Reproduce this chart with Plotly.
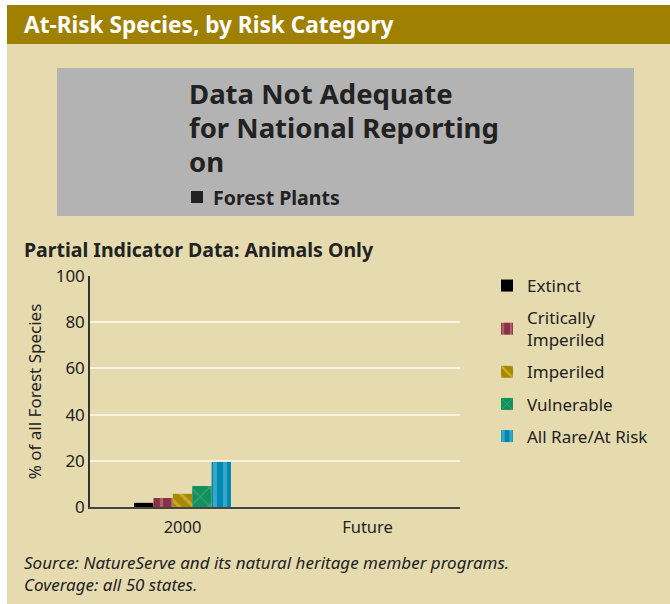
import plotly.graph_objects as go

categories = ["2000", "Future"]
series_names = ["Extinct", "Critically<br>Imperiled", "Imperiled", "Vulnerable", "All Rare/At Risk"]
extinct = [1.8, None]
critically_imperiled = [3.9, None]
imperiled = [5.7, None]
vulnerable = [9.1, None]
all_rare = [19.5, None]
y_ticks = [0, 20, 40, 60, 80, 100]

series_values = [extinct, critically_imperiled, imperiled, vulnerable, all_rare]
colors = ["#000000", "#8A3042", "#A88A00", "#14905E", "#0088B2"]
pat_shapes = ["", "|", "\\", "x", "|"]
pat_fg = ["#000000", "#C98A92", "#E2C868", "#6DBB94", "#72C2DA"]
pat_size = [8, 11, 10, 13, 10]
pat_sol = [0.3, 0.3, 0.3, 0.15, 0.4]

W, H = 670, 604
L, R, T, B = 90, 210, 276, 97
PW, PH = W - L - R, H - T - B

def px(x):
    return (x - L) / PW

def py(y):
    return (H - B - y) / PH

FONT = "Noto Sans"
fig = go.Figure()
for i, name in enumerate(series_names):
    fig.add_trace(go.Bar(
        x=categories, y=series_values[i], name=name,
        legendgroup=f"g{i}",
        marker=dict(color=colors[i], line=dict(width=0),
                    pattern=dict(shape=pat_shapes[i], fgcolor=pat_fg[i],
                                 bgcolor=colors[i], size=pat_size[i],
                                 solidity=pat_sol[i])),
    ))

shapes = [
    dict(type="rect", xref="paper", yref="paper", x0=px(7), x1=px(672), y0=py(44), y1=py(606),
         fillcolor="#E6DBAF", line=dict(width=0), layer="below"),
    dict(type="rect", xref="paper", yref="paper", x0=px(7), x1=px(672), y0=py(5), y1=py(44),
         fillcolor="#A08000", line=dict(width=0), layer="below"),
    dict(type="rect", xref="paper", yref="paper", x0=px(57), x1=px(634), y0=py(68), y1=py(216),
         fillcolor="#B3B3B3", line=dict(width=0), layer="below"),
    dict(type="rect", xref="paper", yref="paper", x0=px(191), x1=px(203), y0=py(191), y1=py(203),
         fillcolor="#222222", line=dict(width=0), layer="above"),
]

ann = []
def text(x, y, s, size, color="#222222", bold=False, italic=False):
    if bold:
        s = f"<b>{s}</b>"
    if italic:
        s = f"<i>{s}</i>"
    ann.append(dict(x=px(x), y=py(y), xref="paper", yref="paper", text=s, showarrow=False,
                    xanchor="left", yanchor="middle", align="left",
                    font=dict(family=FONT, size=size, color=color)))

text(22, 25, "At-Risk Species, by Risk Category", 22.6, color="#FFFFFF", bold=True)
text(187, 93, "Data Not Adequate", 27.5, bold=True)
text(187, 127, "for National Reporting", 27.5, bold=True)
text(187, 161, "on", 27.5, bold=True)
text(211, 197, "Forest Plants", 19.5, bold=True)
text(22, 249, "Partial Indicator Data: Animals Only", 19.5, bold=True)
text(22, 562, "Source: NatureServe and its natural heritage member programs.", 17, italic=True)
text(22, 584, "Coverage: all 50 states.", 17, italic=True)

fig.update_layout(
    width=W, height=H,
    margin=dict(l=L, r=R, t=T, b=B, pad=0),
    paper_bgcolor="#FFFFFF",
    plot_bgcolor="rgba(0,0,0,0)",
    barmode="group", bargap=0.476, bargroupgap=0,
    font=dict(family=FONT, size=16, color="#222222"),
    shapes=shapes, annotations=ann,
    showlegend=True,
    legend=dict(x=px(487), xanchor="left", y=py(268), yanchor="top",
                bgcolor="rgba(0,0,0,0)", font=dict(family=FONT, size=17, color="#222222"),
                traceorder="grouped", tracegroupgap=7, itemwidth=30),
    xaxis=dict(range=[-0.5, 1.5], showgrid=False, showline=True, linecolor="#444444",
               linewidth=2, ticks="", tickfont=dict(size=16.5), ticklabelstandoff=4,
               fixedrange=True),
    yaxis=dict(range=[0, 100], tickvals=y_ticks, showgrid=True, gridcolor="#F7F2E2",
               gridwidth=1.5, zeroline=False, showline=True, linecolor="#333333",
               linewidth=1.5, ticks="", tickfont=dict(size=17),
               title=dict(text="% of all Forest Species", font=dict(size=17), standoff=10)),
)

fig.write_html("out.html", config={"displayModeBar": False},
               post_script="document.body.style.margin='0';")
